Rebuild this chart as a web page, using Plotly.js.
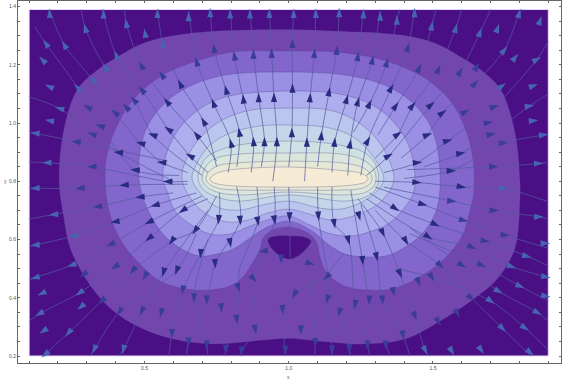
<!DOCTYPE html>
<html>
<head>
<meta charset="utf-8">
<script src="https://cdn.plot.ly/plotly-3.0.1.min.js"></script>
<style>html,body{margin:0;padding:0;background:#fff}</style>
</head>
<body>
<div id="chart" style="width:570px;height:382px"></div>
<script>
//outer rectangle of the density plot
var bgX = [0.1, 1.9, 1.9, 0.1, 0.1];
var bgY = [0.2, 0.2, 1.39, 1.39, 0.2];

//contour bands, outer to inner
var aX = [.204,.218,.266,.336,.405,.495,.613,.752,1.001,1.161,1.390,1.508,1.598,1.667,1.736,1.785,1.802,1.802,1.785,1.726,1.646,1.542,1.403,1.265,1.102,1.001,.876,.738,.599,.495,.415,.346,.287,.242,.218];
var aY = [.797,.965,1.113,1.182,1.226,1.274,1.302,1.316,1.321,1.316,1.302,1.274,1.226,1.182,1.113,.965,.797,.742,.571,.468,.399,.330,.258,.241,.251,.260,.251,.241,.258,.293,.337,.399,.481,.571,.687];
var bX = [.364,.367,.398,.460,.564,.692,.807,.987,1.161,1.299,1.403,1.483,1.566,1.618,1.639,1.642,1.628,1.601,1.531,1.448,1.368,1.289,1.195,1.133,1.108,1.098,1.067,1.001,.942,.911,.900,.876,.841,.796,.717,.647,.554,.484,.426,.391,.370];
var bY = [.801,.873,.976,1.079,1.165,1.216,1.244,1.247,1.244,1.223,1.189,1.147,1.069,.965,.873,.766,.698,.612,.526,.468,.433,.426,.440,.485,.543,.588,.622,.643,.632,.605,.564,.523,.471,.440,.426,.430,.457,.516,.584,.653,.732];
var cX = [.481,.485,.512,.571,.658,.779,1.001,1.195,1.334,1.427,1.490,1.517,1.524,1.507,1.462,1.392,1.334,1.264,1.195,1.136,1.081,1.001,.918,.866,.807,.751,.692,.623,.564,.519,.495];
var cY = [.808,.907,.993,1.069,1.127,1.165,1.175,1.165,1.130,1.072,.993,.907,.766,.687,.619,.567,.543,.540,.550,.584,.629,.663,.639,.605,.567,.550,.543,.571,.619,.687,.742];
var dX = [.564,.575,.616,.685,.779,1.001,1.195,1.309,1.386,1.427,1.434,1.392,1.344,1.289,1.219,1.136,1.067,1.001,.935,.866,.796,.727,.658,.606,.578];
var dY = [.808,.890,.976,1.044,1.089,1.110,1.096,1.051,.976,.890,.766,.698,.653,.629,.612,.622,.653,.681,.670,.646,.619,.619,.653,.698,.766];
var eX = [.630,.644,.692,.769,.866,1.001,1.143,1.240,1.316,1.365,1.334,1.289,1.212,1.143,1.073,1.001,.928,.859,.789,.720,.665];
var eY = [.808,.873,.948,1.010,1.044,1.051,1.044,1.003,.931,.808,.746,.708,.677,.667,.687,.704,.691,.667,.660,.684,.735];
var fX = [.665,.682,.727,.796,.900,1.001,1.126,1.212,1.275,1.330,1.299,1.247,1.178,1.108,1.001,.907,.831,.762,.710];
var fY = [.808,.862,.924,.965,.990,.993,.986,.959,.907,.808,.760,.725,.704,.708,.732,.718,.701,.708,.742];
var gX = [.686,.695,.715,.755,.824,1.001,1.178,1.264,1.300,1.312,1.300,1.264,1.195,1.001,.824,.755,.705];
var gY = [.808,.850,.882,.905,.924,.938,.924,.897,.860,.808,.770,.745,.732,.753,.732,.745,.770];
var hX = [.700,.712,.745,.824,.998,1.185,1.260,1.292,1.303,1.292,1.260,1.185,.998,.824,.745,.712];
var hY = [.808,.850,.878,.893,.897,.893,.872,.845,.808,.780,.760,.753,.763,.753,.765,.785];
var iX = [.713,.725,.760,.824,.998,1.185,1.250,1.280,1.289,1.280,1.250,1.185,.998,.824,.760,.725];
var iY = [.808,.835,.855,.863,.869,.863,.850,.830,.808,.790,.775,.770,.770,.770,.775,.790];
var jX = [.727,.740,.770,.824,.998,1.171,1.240,1.266,1.275,1.266,1.240,1.171,.998,.824,.770,.740];
var jY = [.808,.822,.834,.842,.849,.838,.830,.820,.808,.797,.790,.783,.780,.783,.788,.795];
var notchX = [.928,.959,1.005,1.056,1.077,1.063,1.032,1.005,.977,.946,.932];
var notchY = [.602,.612,.612,.608,.595,.571,.543,.533,.540,.564,.584];

//stream lines, each one x,y,x,y...
var streamLines = [
  [1.000,.85,1.011,.967,1.013,1.119,1.013,1.273,1.017,1.39],
  [1.055,.80,1.063,.934,1.074,1.087,1.089,1.239,1.094,1.39],
  [1.100,.85,1.113,.956,1.140,1.107,1.167,1.25,1.175,1.39],
  [1.150,.83,1.159,.934,1.201,1.081,1.240,1.228,1.259,1.39],
  [1.205,.82,1.213,.928,1.240,1.073,1.290,1.216,1.317,1.39],
  [1.250,.82,1.274,.939,1.355,1.119,1.413,1.259,1.436,1.39],
  [1.225,.97,1.280,1.065,1.340,1.207,1.375,1.353,1.385,1.39],
  [1.31,.96,1.371,1.058,1.452,1.188,1.496,1.333,1.51,1.39],
  [1.30,.88,1.378,.961,1.429,1.059,1.519,1.184,1.579,1.325,1.60,1.39],
  [1.27,.82,1.346,.887,1.493,1.062,1.594,1.176,1.663,1.311,1.70,1.39],
  [1.39,.88,1.481,.959,1.533,1.035,1.646,1.136,1.747,1.25,1.799,1.376,1.805,1.39],
  [1.33,.83,1.446,.864,1.551,.939,1.713,1.056,1.860,1.218,1.90,1.28],
  [1.47,.85,1.596,.896,1.702,.961,1.834,1.058,1.90,1.10],
  [1.40,.81,1.563,.836,1.744,.932,1.883,.959,1.90,.965],
  [1.30,.80,1.444,.796,1.598,.781,1.744,.776,1.90,.73],
  [1.41,.84,1.71,.85,1.866,.861,1.90,.865],
  [1.33,.78,1.565,.732,1.712,.70,1.866,.678,1.90,.67],
  [1.30,.78,1.465,.721,1.606,.666,1.750,.615,1.90,.57],
  [1.28,.76,1.369,.707,1.508,.652,1.681,.595,1.825,.543,1.90,.51],
  [1.27,.74,1.484,.609,1.635,.574,1.773,.507,1.891,.472,1.90,.47],
  [1.24,.74,1.326,.623,1.386,.483,1.438,.337,1.473,.22,1.49,.2],
  [1.30,.70,1.406,.595,1.525,.512,1.632,.40,1.741,.295,1.84,.20],
  [1.42,.64,1.600,.512,1.727,.423,1.862,.349,1.90,.32],
  [1.42,.62,1.669,.512,1.802,.44,1.90,.39],
  [1.37,.50,1.496,.471,1.700,.389,1.819,.297,1.90,.22],
  [1.25,.72,1.305,.541,1.325,.392,1.396,.272,1.42,.2],
  [1.215,.77,1.256,.528,1.279,.392,1.337,.238,1.35,.2],
  [1.15,.78,1.158,.655,1.207,.598,1.230,.377,1.273,.238,1.28,.2],
  [1.10,.78,1.103,.681,1.134,.5,1.176,.351,1.210,.225,1.215,.2],
  [1.00,.78,1.003,.678,1.005,.54],
  [1.19,.55,1.132,.472,1.134,.395,1.150,.221,1.15,.2],
  [1.132,.472,1.020,.412,.985,.33,.988,.2],
  [1.08,.47,1.092,.246,1.09,.2],
  [.945,.80,.959,.936,.949,1.088,.941,1.239,.933,1.39],
  [.905,.85,.916,.936,.896,1.087,.878,1.236,.866,1.39],
  [.87,.83,.878,.936,.843,1.082,.812,1.23,.797,1.39],
  [.82,.85,.829,.968,.783,1.113,.741,1.256,.728,1.39],
  [.79,.83,.80,.93,.739,1.068,.681,1.21,.653,1.39],
  [.75,.85,.705,1.005,.624,1.134,.564,1.273,.545,1.39],
  [.75,.87,.681,.959,.578,1.073,.489,1.197,.437,1.342,.43,1.39],
  [.72,.83,.658,.887,.583,.978,.491,1.113,.402,1.233,.358,1.374,.355,1.39],
  [.70,.82,.529,.959,.464,1.079,.364,1.191,.295,1.325,.28,1.39],
  [.65,.83,.560,.865,.487,.93,.398,1.035,.318,1.151,.222,1.268,.17,1.39],
  [.62,.82,.468,.839,.347,.99,.268,1.122,.158,1.273,.12,1.33],
  [.60,.80,.410,.899,.318,.962,.206,1.05,.10,1.09],
  [.58,.87,.263,.936,.121,.965,.10,.97],
  [.65,.80,.581,.799,.318,.85,.162,.864,.10,.866],
  [.65,.79,.430,.787,.277,.776,.121,.776,.10,.776],
  [.60,.76,.485,.746,.338,.713,.185,.686,.10,.67],
  [.68,.76,.537,.718,.398,.661,.254,.612,.121,.581,.10,.575],
  [.70,.75,.516,.66,.383,.583,.248,.512,.121,.469,.10,.46],
  [.72,.74,.633,.70,.516,.604,.398,.506,.275,.417,.136,.345,.10,.32],
  [.75,.75,.676,.631,.595,.595,.460,.494,.352,.389,.237,.28,.156,.206,.15,.2],
  [.76,.76,.757,.669,.695,.552,.633,.427,.595,.277,.585,.2],
  [.72,.70,.566,.488,.491,.355,.427,.223,.41,.2],
  [.68,.62,.612,.494,.413,.352,.326,.223,.31,.2],
  [.82,.78,.832,.666,.745,.518,.716,.392,.653,.248,.645,.2],
  [.72,.60,.672,.40,.716,.238,.72,.2],
  [.89,.78,.893,.663,.83,.50,.826,.435,.82,.326,.782,.223,.78,.2],
  [.95,.78,.951,.667,.912,.56,.878,.465,.884,.292,.837,.217,.835,.2]
];

//arrows x,y,direction in degrees (0 is up, clockwise)
var innerArrows = [
  [.624,1.134,-25],[.578,1.073,-40],[.783,1.113,-15],[.739,1.068,-20],[.843,1.082,-5],[.896,1.087,0],[.949,1.088,0],[.705,1.005,-30],[.583,.978,-55],[.529,.959,-70],[.681,.959,-40],[.658,.887,-60],[.487,.930,-75],[.410,.899,-85],[.560,.865,-85],[.468,.839,-85],[.430,.787,-95],[.581,.799,-90],[.829,.968,-10],[.800,.930,-15],[.878,.936,-5],[.916,.936,0],[.959,.936,0],
  [1.013,1.119,0],[1.074,1.087,5],[1.140,1.107,10],[1.201,1.081,15],[1.240,1.073,15],[1.280,1.065,25],[1.355,1.119,30],[1.371,1.058,35],[1.429,1.059,40],[1.493,1.062,50],[1.533,1.035,55],[1.481,.959,70],[1.551,.939,75],[1.378,.961,55],[1.346,.887,60],[1.596,.896,80],[1.563,.836,90],[1.446,.864,85],[1.444,.796,95],[1.598,.781,100],[1.011,.967,0],[1.063,.934,0],[1.113,.956,5],[1.159,.934,5],[1.213,.928,10],[1.274,.939,30],
  [.398,.661,-100],[.485,.746,-95],[.537,.718,-105],[.516,.660,-115],[.516,.604,-130],[.633,.700,-125],[.676,.631,-145],[.595,.595,-145],[.566,.488,-165],[.612,.494,-160],[.695,.552,-175],[.745,.518,175],[.757,.669,-175],[.797,.589,170],[.832,.666,175],[.893,.663,170],[.951,.667,170],
  [1.003,.678,180],[1.103,.681,175],[1.158,.655,170],[1.244,.681,165],[1.207,.598,165],[1.326,.623,155],[1.369,.707,125],[1.406,.595,150],[1.256,.528,175],[1.305,.541,165],[1.386,.483,155],[1.465,.721,105],[1.508,.652,115],[1.484,.609,125]
];
var midArrows = [
  [.277,.776,-95],[.303,1.054,-60],[.347,.990,-70],[.263,.936,-85],[.318,.962,-70],[.318,.850,-90],[.398,1.035,-50],[.437,1.054,-45],[.464,1.079,-40],[.491,1.113,-40],[.560,1.165,-35],[.489,1.197,-30],[.681,1.210,-15],[.741,1.256,-10],[.812,1.230,-10],[.878,1.236,0],[.941,1.239,0],
  [1.013,1.273,0],[1.089,1.239,5],[1.167,1.250,5],[1.240,1.228,10],[1.290,1.216,10],[1.340,1.207,15],[1.413,1.259,15],[1.452,1.188,25],[1.519,1.184,25],[1.594,1.176,30],[1.652,1.193,30],[1.646,1.136,45],[1.612,1.039,60],[1.713,1.056,70],[1.692,1.001,80],[1.702,.961,80],[1.744,.932,85],[1.710,.850,90],
  [.338,.713,-95],[.383,.583,-115],[.398,.506,-125],[.289,.480,-130],[.352,.389,-135],[.413,.352,-145],[.491,.355,-155],[.558,.349,-165],[.595,.277,-175],[.653,.248,180],[.716,.238,180],[.782,.223,180],[.837,.217,180],[.633,.427,-170],[.672,.400,180],[.716,.392,180],[.766,.366,175],[.820,.326,170],[.884,.292,170],[.979,.360,175],[.460,.494,-140],[.502,.475,-150],[.912,.560,-100],[.974,.533,180],[.878,.465,135],[.826,.435,160],
  [1.565,.732,95],[1.606,.666,105],[1.074,.518,105],[1.132,.472,-135],[1.020,.412,-150],[1.134,.395,-165],[1.230,.377,-170],[1.176,.351,-165],[1.279,.392,-178],[1.325,.392,175],[1.363,.421,170],[1.450,.455,155],[1.496,.471,150],[1.525,.512,135],[1.600,.512,120],[1.669,.512,115],[1.635,.574,115],[1.681,.595,100],[1.750,.615,95],[1.712,.700,90],[1.632,.400,130],[1.585,.347,150],[1.519,.318,150],[1.438,.337,160],[1.396,.272,170],[1.337,.238,175],[1.273,.238,180],[1.210,.225,180],[1.150,.221,180],[1.092,.246,180],[1.042,.289,180],[.988,.220,180]
];
var outerArrows = [
  [.171,1.376,-5],[.358,1.374,0],[.545,1.376,0],[.653,1.365,0],[.728,1.379,0],[.797,1.374,0],[.866,1.374,0],[.933,1.376,0],[.295,1.325,-15],[.437,1.342,-10],[.502,1.308,-10],[.564,1.273,-5],[.158,1.273,-35],[.222,1.268,-30],[.147,1.216,-45],[.402,1.233,-20],[.364,1.191,-30],[.318,1.151,-40],[.268,1.122,-45],[.170,1.125,-65],[.206,1.050,-75],[.171,1.008,-80],[.121,.965,-85],[.162,.864,-90],[.121,.776,-95],
  [1.017,1.376,0],[1.094,1.376,0],[1.175,1.379,0],[1.259,1.374,0],[1.317,1.367,0],[1.375,1.353,0],[1.436,1.379,0],[1.496,1.333,10],[1.579,1.325,15],[1.663,1.311,20],[1.724,1.325,20],[1.799,1.376,15],[1.871,1.351,20],[1.747,1.250,40],[1.785,1.225,40],[1.860,1.218,60],[1.739,1.127,55],[1.848,1.128,70],[1.834,1.058,80],[1.848,1.008,85],[1.883,.959,85],[1.866,.861,90],[1.744,.776,100],
  [.185,.686,-95],[.121,.581,-95],[.121,.469,-105],[.144,.415,-115],[.136,.345,-120],[.150,.286,-125],[.156,.206,-130],[.237,.280,-140],[.326,.223,-155],[.427,.223,-165],[.275,.417,-125],[.280,.369,-130],[.248,.512,-110],[.254,.612,-100],
  [1.889,.587,90],[1.866,.678,90],[1.825,.543,105],[1.773,.507,110],[1.802,.440,115],[1.891,.472,100],[1.727,.423,120],[1.700,.389,125],[1.862,.349,120],[1.819,.297,125],[1.741,.295,135],[1.667,.221,145],[1.837,.212,130],[1.565,.217,150],[1.473,.220,155],[1.891,.406,100]
];

//ticks
var xTicks = [.1,.2,.3,.4,.5,.6,.7,.8,.9,1.0,1.1,1.2,1.3,1.4,1.5,1.6,1.7,1.8,1.9];
var xLabels = ['','','','','0.5','','','','','1.0','','','','','1.5','','','',''];
var yTicks = [.2,.25,.3,.35,.4,.45,.5,.55,.6,.65,.7,.75,.8,.85,.9,.95,1.0,1.05,1.1,1.15,1.2,1.25,1.3,1.35,1.4];
var yLabels = ['0.2','','','','0.4','','','','0.6','','','','0.8','','','','1.0','','','','1.2','','','','1.4'];

function band(xs, ys, color, edge){
    return {
        x: xs.concat(xs[0]),
        y: ys.concat(ys[0]),
        type: 'scatter',
        mode: 'lines',
        fill: 'toself',
        fillcolor: color,
        line: {color: edge || 'rgba(70,60,125,0.4)', width: 0.8, shape: 'spline', smoothing: 1},
        hoverinfo: 'skip'
    };
}

//the 'arrow' symbol has its tip on the point, the values are arrow centres
function arrows(list, color){
    return {
        x: list.map(function(a){ return a[0] + 0.0173*Math.sin(a[2]*Math.PI/180); }),
        y: list.map(function(a){ return a[1] + 0.0172*Math.cos(a[2]*Math.PI/180); }),
        type: 'scatter',
        mode: 'markers',
        marker: {
            symbol: 'arrow',
            size: 10,
            color: color,
            line: {width: 0},
            angle: list.map(function(a){ return a[2]; })
        },
        hoverinfo: 'skip'
    };
}

var streamX = [], streamY = [];
streamLines.forEach(function(l){
    for (var i = 0; i < l.length; i += 2){
        streamX.push(l[i]);
        streamY.push(l[i+1]);
    }
    streamX.push(null);
    streamY.push(null);
});

var rect = band(bgX, bgY, '#4a0f85');
rect.line = {color: '#e9dcf7', width: 1};

var data = [
    rect,
    band(aX, aY, '#7346ae', 'rgba(70,60,125,0.15)'),
    band(bX, bY, '#8266cb', 'rgba(70,60,125,0.25)'),
    band(cX, cY, '#9a8ee5'),
    band(dX, dY, '#aeaeee'),
    band(eX, eY, '#bbc5ee'),
    band(fX, fY, '#c5d6ea'),
    band(gX, gY, '#d0e1e4'),
    band(hX, hY, '#dbe6dc'),
    band(iX, iY, '#e6e9d6'),
    band(jX, jY, '#f6ecd6'),
    band(notchX, notchY, '#4a0f85'),
    {
        x: streamX,
        y: streamY,
        type: 'scatter',
        mode: 'lines',
        line: {color: 'rgba(85,90,158,0.72)', width: 1, shape: 'spline', smoothing: 0.8},
        hoverinfo: 'skip'
    },
    arrows(outerArrows, '#4565b0'),
    arrows(midArrows, '#3a3d98'),
    arrows(innerArrows, '#2a2c80')
];

var axisStyle = {
    tickmode: 'array',
    ticks: 'inside',
    ticklen: 2,
    tickcolor: '#666',
    tickwidth: 1,
    showline: true,
    linecolor: '#666',
    linewidth: 1,
    mirror: 'ticks',
    showgrid: false,
    zeroline: false,
    tickfont: {family: 'Liberation Sans', size: 5, color: '#555'}
};

var layout = {
    width: 570,
    height: 382,
    margin: {l: 18, r: 9, t: 1, b: 19},
    paper_bgcolor: '#fff',
    plot_bgcolor: '#fff',
    showlegend: false,
    xaxis: Object.assign({}, axisStyle, {range: [0.0615, 1.944], tickvals: xTicks, ticktext: xLabels}),
    yaxis: Object.assign({}, axisStyle, {range: [0.176, 1.419], tickvals: yTicks, ticktext: yLabels}),
    annotations: [
        {text: 'x', xref: 'x', yref: 'paper', x: 1.0, y: 0, yanchor: 'top', yshift: -9, showarrow: false, font: {family: 'Liberation Sans', size: 5, color: '#555'}},
        {text: 'y', xref: 'paper', yref: 'y', x: 0, y: 0.8, xanchor: 'right', xshift: -9, showarrow: false, font: {family: 'Liberation Sans', size: 5, color: '#555'}}
    ]
};

Plotly.newPlot('chart', data, layout, {displayModeBar: false, staticPlot: true});
</script>
</body>
</html>
